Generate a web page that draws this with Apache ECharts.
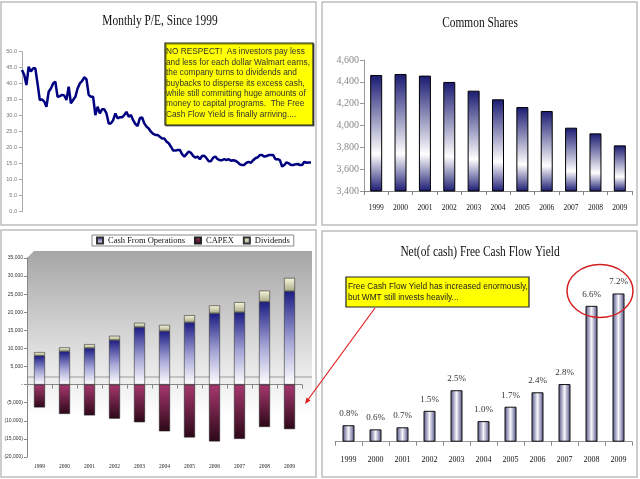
<!DOCTYPE html>
<html>
<head>
<meta charset="utf-8">
<style>
  html, body { margin: 0; padding: 0; background: #fff; }
  #main { width: 640px; height: 479px; }
</style>
<script src="https://cdn.jsdelivr.net/npm/echarts@6/dist/echarts.min.js"></script>
</head>
<body>
<div id="main"></div>
<script>
var years = ['1999', '2000', '2001', '2002', '2003', '2004', '2005', '2006', '2007', '2008', '2009'];

// monthly P/E, Jan 1999 onward
var peValues = [
  44.3, 42.7, 39.6, 45.3, 43.8, 44.8, 44.8, 40.0, 34.9, 35.1, 34.4, 32.8, 37.5, 38.5, 40.1, 40.6,
  35.9, 36.1, 36.5, 36.3, 34.9, 39.1, 33.9, 34.9, 35.9, 38.5, 40.1, 40.8, 42.0, 41.4, 36.5, 35.9,
  35.9, 30.2, 32.8, 30.7, 32.0, 32.0, 30.7, 27.6, 27.6, 28.6, 30.7, 29.2, 29.5, 29.5, 30.2, 31.2,
  29.7, 30.2, 28.6, 27.4, 26.8, 29.2, 29.5, 27.6, 26.6, 26.0, 25.0, 24.3, 24.0, 24.0, 23.4, 22.9,
  22.9, 21.9, 21.4, 20.3, 19.1, 19.1, 19.3, 19.3, 18.0, 17.2, 18.0, 18.8, 18.4, 17.4, 16.9, 17.2,
  16.4, 17.4, 17.5, 16.7, 15.8, 15.8, 16.9, 17.2, 16.4, 16.1, 16.1, 16.4, 16.1, 16.4, 15.9, 16.1,
  15.9, 15.5, 14.8, 14.6, 14.6, 15.3, 15.6, 15.3, 16.1, 16.7, 17.0, 17.7, 17.7, 17.2, 17.4, 17.7,
  17.7, 17.7, 16.4, 16.4, 16.1, 14.1, 14.6, 15.4, 15.1, 14.6, 14.6, 14.8, 14.9, 14.6, 14.6, 15.6,
  15.3, 15.4, 15.4
];
var peTicks = [0, 50, 5];

var commonShares = [4463, 4472, 4457, 4399, 4319, 4240, 4169, 4133, 3980, 3928, 3818];

var cashFromOps = [8000, 9200, 10100, 12300, 15900, 14800, 17200, 19700, 20000, 22900, 25800];
var capex = [-6300, -8100, -8500, -9400, -10400, -12900, -14600, -15700, -15000, -11700, -12300];
var dividends = [1000, 1100, 1100, 1200, 1200, 1700, 2000, 2200, 2800, 3100, 3700];

var fcfYield = [0.8, 0.6, 0.7, 1.5, 2.5, 1.0, 1.7, 2.4, 2.8, 6.6, 7.2];

var noteTop = [
  'NO RESPECT!  As investors pay less',
  'and less for each dollar Walmart earns,',
  'the company turns to dividends and',
  'buybacks to disperse its excess cash,',
  'while still committing huge amounts of',
  'money to capital programs.  The Free',
  'Cash Flow Yield is finally arriving....'
];
var noteBottom = [
  'Free Cash Flow Yield has increased enormously,',
  'but WMT still invests heavily...'
];

(function () {
  var serif = '"Liberation Serif", "DejaVu Serif", serif';
  var sans = '"Liberation Sans", Arial, sans-serif';
  var chart = echarts.init(document.getElementById('main'), null, { renderer: 'canvas' });

  function vgrad(stops) {
    return new echarts.graphic.LinearGradient(0, 0, 0, 1, stops);
  }
  function hgrad(stops) {
    return new echarts.graphic.LinearGradient(0, 0, 1, 0, stops);
  }

  function money(v) {
    if (v === 0) return '-';
    var s = Math.abs(v).toLocaleString('en-US');
    return v < 0 ? '(' + s + ')' : s;
  }

  function panel(x, y, w, h) {
    return {
      type: 'rect', silent: true, z: -10,
      shape: { x: x, y: y, width: w, height: h },
      style: { fill: '#fff', stroke: '#bdbdbd', lineWidth: 1.5 }
    };
  }

  // the titles in the picture are tall but narrow, so squeeze them
  function title(text, x, y) {
    return {
      type: 'text', x: x, y: y, z: 5, scaleX: 0.76,
      style: { text: text, font: '15px ' + serif, fill: '#111', align: 'center', verticalAlign: 'middle' }
    };
  }

  var graphics = [
    panel(1, 2, 315, 223),
    panel(322, 2, 315, 223),
    panel(1, 230, 315, 247),
    panel(322, 231, 315, 246),
    // plot wall of the cash flow chart
    {
      type: 'polygon', silent: true, z: -5,
      shape: { points: [[27, 258], [34, 251], [312, 251], [312, 457], [27, 457]] },
      style: { fill: vgrad([{ offset: 0, color: '#a6a6a6' }, { offset: 0.55, color: '#e6e6e6' }, { offset: 0.8, color: '#ffffff' }, { offset: 1, color: '#ffffff' }]) }
    },
    {
      type: 'line', silent: true, z: -4,
      shape: { x1: 27, y1: 377, x2: 312, y2: 377 },
      style: { stroke: '#9a9a9a', lineWidth: 1 }
    },
    title('Monthly P/E, Since 1999', 160, 21),
    title('Common Shares', 480, 23.5),
    title('Net(of cash) Free Cash Flow Yield', 480, 252),
    {
      type: 'rect', silent: true, z: 6,
      shape: { x: 165, y: 43, width: 148, height: 82 },
      style: { fill: '#ffff00', stroke: '#222', lineWidth: 1.2, shadowColor: 'rgba(0,0,0,0.5)', shadowOffsetX: 1, shadowOffsetY: 1 }
    },
    {
      type: 'text', x: 166, y: 47, z: 7,
      style: { text: noteTop.join('\n'), font: '8.3px ' + sans, fill: '#333', lineHeight: 10.4 }
    },
    {
      type: 'rect', silent: true, z: 6,
      shape: { x: 346, y: 277, width: 183, height: 30 },
      style: { fill: '#ffff00', stroke: '#222', lineWidth: 1.2 }
    },
    {
      type: 'text', x: 348, y: 282, z: 7,
      style: { text: noteBottom.join('\n'), font: '8.3px ' + sans, fill: '#222', lineHeight: 10.4 }
    },
    {
      type: 'ellipse', silent: true, z: 8,
      shape: { cx: 600, cy: 291, rx: 33, ry: 26.5 },
      style: { fill: 'none', stroke: '#d42020', lineWidth: 1.5 }
    },
    {
      type: 'line', silent: true, z: 8,
      shape: { x1: 375, y1: 308, x2: 307, y2: 401 },
      style: { stroke: '#e02020', lineWidth: 1.2 }
    },
    {
      type: 'polygon', silent: true, z: 8,
      shape: { points: [[305, 404], [310.5, 400.6], [306.5, 397.6]] },
      style: { fill: '#e02020' }
    }
  ];

  var catTick = { show: true, alignWithLabel: false, length: 4, lineStyle: { color: '#888' } };

  chart.setOption({
    animation: false,
    backgroundColor: '#fff',
    graphic: graphics,
    legend: {
      data: ['Cash From Operations', 'CAPEX', 'Dividends'],
      left: 92, top: 235,
      itemWidth: 6, itemHeight: 6, itemGap: 9,
      icon: 'rect',
      padding: [1, 4],
      borderColor: '#888', borderWidth: 1,
      textStyle: { fontFamily: serif, fontSize: 8.5, color: '#111' }
    },
    grid: [
      { left: 22, right: 329, top: 51.7, bottom: 267.3 },
      { left: 364, right: 8, top: 60, bottom: 288 },
      { left: 27, right: 338, top: 258, bottom: 22 },
      { left: 335, right: 8, top: 277, bottom: 37.3 }
    ],
    xAxis: [
      {
        gridIndex: 0, type: 'category', boundaryGap: false,
        data: peValues.map(function (v, i) { return i; }),
        axisLine: { show: false }, axisTick: { show: false }, axisLabel: { show: false }
      },
      {
        gridIndex: 1, type: 'category', data: years,
        axisLine: { lineStyle: { color: '#888' } }, axisTick: catTick,
        axisLabel: { fontFamily: serif, fontSize: 7.5, color: '#111', margin: 13 }
      },
      {
        gridIndex: 2, type: 'category', data: years,
        axisLine: { lineStyle: { color: '#888' } }, axisTick: catTick,
        axisLabel: { fontFamily: serif, fontSize: 5.5, color: '#222', margin: 7 }
      },
      {
        gridIndex: 3, type: 'category', data: years,
        axisLine: { lineStyle: { color: '#999' } }, axisTick: catTick,
        axisLabel: { fontFamily: serif, fontSize: 8, color: '#111', margin: 14 }
      }
    ],
    yAxis: [
      {
        gridIndex: 0, type: 'value', min: peTicks[0], max: peTicks[1], interval: peTicks[2],
        axisLine: { show: true, lineStyle: { color: '#aaa' } },
        axisTick: { show: true, length: 3, lineStyle: { color: '#aaa' } },
        splitLine: { show: false },
        axisLabel: { fontFamily: sans, fontSize: 5.5, color: '#777', margin: 5, formatter: function (v) { return v.toFixed(1); } }
      },
      {
        gridIndex: 1, type: 'value', min: 3400, max: 4600, interval: 200,
        axisLine: { show: true, lineStyle: { color: '#999' } },
        axisTick: { show: true, length: 4, lineStyle: { color: '#999' } },
        splitLine: { show: false },
        axisLabel: { fontFamily: serif, fontSize: 10, color: '#888', margin: 5, formatter: function (v) { return v.toLocaleString('en-US'); } }
      },
      {
        gridIndex: 2, type: 'value', min: -20000, max: 35000, interval: 5000,
        axisLine: { show: true, lineStyle: { color: '#888' } },
        axisTick: { show: true, length: 3, lineStyle: { color: '#888' } },
        splitLine: { show: false },
        axisLabel: { fontFamily: sans, fontSize: 5, color: '#333', margin: 4, formatter: money }
      },
      {
        gridIndex: 3, type: 'value', min: 0, max: 8, show: false
      }
    ],
    series: [
      {
        name: 'P/E', type: 'line', xAxisIndex: 0, yAxisIndex: 0,
        data: peValues, symbol: 'none',
        lineStyle: { color: '#000080', width: 2.5 }
      },
      {
        name: 'Common Shares', type: 'bar', xAxisIndex: 1, yAxisIndex: 1,
        data: commonShares, barWidth: 12,
        itemStyle: {
          color: vgrad([{ offset: 0, color: '#1a1a72' }, { offset: 0.68, color: '#ffffff' }, { offset: 1, color: '#1a1a72' }]),
          borderColor: '#000', borderWidth: 1
        }
      },
      {
        name: 'Cash From Operations', type: 'bar', xAxisIndex: 2, yAxisIndex: 2,
        stack: 'cash', data: cashFromOps, barWidth: 11,
        itemStyle: {
          color: vgrad([{ offset: 0, color: '#1c1c84' }, { offset: 0.55, color: '#a8a8d8' }, { offset: 1, color: '#ffffff' }]),
          borderColor: '#333', borderWidth: 0.6
        }
      },
      {
        name: 'CAPEX', type: 'bar', xAxisIndex: 2, yAxisIndex: 2,
        stack: 'cash', data: capex, barWidth: 11,
        itemStyle: {
          color: vgrad([{ offset: 0, color: '#a8386f' }, { offset: 1, color: '#2c0818' }]),
          borderColor: '#222', borderWidth: 0.6
        }
      },
      {
        name: 'Dividends', type: 'bar', xAxisIndex: 2, yAxisIndex: 2,
        stack: 'cash', data: dividends, barWidth: 11,
        itemStyle: {
          color: vgrad([{ offset: 0, color: '#f8f8da' }, { offset: 1, color: '#a9a98a' }]),
          borderColor: '#333', borderWidth: 0.6
        }
      },
      {
        name: 'FCF Yield', type: 'bar', xAxisIndex: 3, yAxisIndex: 3,
        data: fcfYield, barWidth: 12,
        itemStyle: {
          color: hgrad([{ offset: 0, color: '#4c4c82' }, { offset: 0.5, color: '#f6f6fb' }, { offset: 1, color: '#4c4c82' }]),
          borderColor: '#111', borderWidth: 1
        },
        label: {
          show: true, position: 'top', distance: 7,
          fontFamily: serif, fontSize: 9, color: '#333',
          formatter: function (p) { return p.value.toFixed(1) + '%'; }
        }
      }
    ]
  });
})();
</script>
</body>
</html>
